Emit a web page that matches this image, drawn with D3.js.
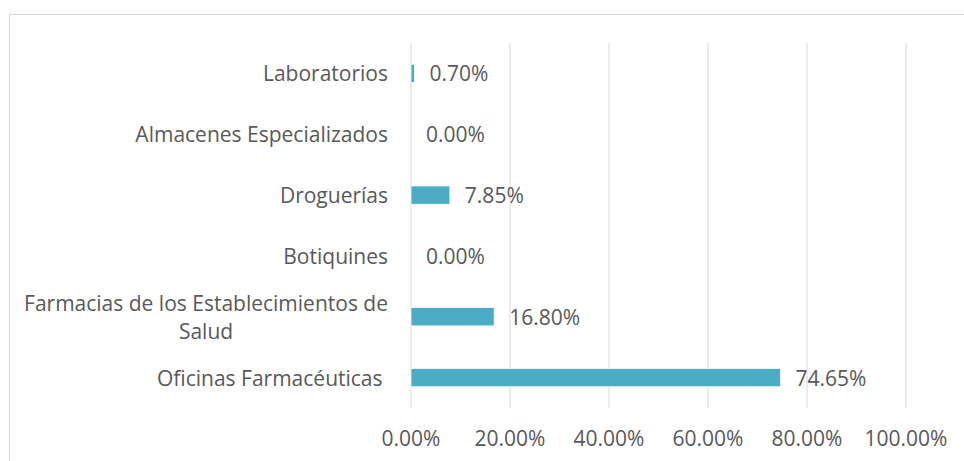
<!DOCTYPE html>
<html>
<head>
<meta charset="utf-8">
<script src="https://cdn.jsdelivr.net/npm/d3@7"></script>
<style>
  body { margin: 0; background: #fff; }
  svg text { font-family: "Open Sans", sans-serif; fill: #595959; }
</style>
</head>
<body>
<svg id="chart" width="964" height="461"></svg>
<script>
/*** DATA ***/
let categories = ["Laboratorios", "Almacenes Especializados", "Droguerías", "Botiquines",
                  "Farmacias de los Establecimientos de Salud", "Oficinas Farmacéuticas"];
let labelLines = [["Laboratorios"], ["Almacenes Especializados"], ["Droguerías"], ["Botiquines"],
                  ["Farmacias de los Establecimientos de", "Salud"], ["Oficinas Farmacéuticas\u00a0"]];
let values = [0.70, 0.00, 7.85, 0.00, 16.80, 74.65];
let ticks  = [0, 20, 40, 60, 80, 100];

/*** SETUP ***/
let margin = {top: 43, left: 411, right: 58, bottom: 53},
    width  = 964 - margin.left - margin.right,
    height = 461 - margin.top - margin.bottom;

let fs = 21;

let svg = d3.select("#chart");

// chart border
svg.append("rect")
    .attr("x", 9.5).attr("y", 14.5)
    .attr("width", 970).attr("height", 470)
    .attr("fill", "none")
    .attr("stroke", "#d9d9d9");

let g = svg.append("g").attr("transform", `translate(${margin.left},${margin.top})`);

let x = d3.scaleLinear().domain([0, 100]).range([0, width]);
let y = d3.scaleBand().domain(categories).range([0, height]).paddingInner(0.7).paddingOuter(0.35);

// gridlines
g.selectAll(".grid").data(ticks).enter().append("line")
    .attr("x1", d => x(d)).attr("x2", d => x(d))
    .attr("y1", 0).attr("y2", height)
    .attr("stroke", "#d9d9d9").attr("stroke-width", 1);

// bars
g.selectAll(".bar").data(values).enter().append("rect")
    .attr("x", x(0))
    .attr("y", (d, i) => y(categories[i]))
    .attr("width", d => x(d) - x(0))
    .attr("height", y.bandwidth())
    .attr("fill", "#4bacc6")
    .attr("stroke", d => d > 0 ? "#fff" : "none")
    .attr("stroke-width", 0.75);

// value labels
g.selectAll(".val").data(values).enter().append("text")
    .attr("x", d => x(d) + 15)
    .attr("y", (d, i) => y(categories[i]) + y.bandwidth() / 2 + 8)
    .attr("font-size", fs)
    .text(d => d.toFixed(2) + "%");

// category labels
let cat = g.selectAll(".cat").data(labelLines).enter().append("text")
    .attr("text-anchor", "middle")
    .attr("font-size", fs)
    .attr("y", (d, i) => y(categories[i]) + y.bandwidth() / 2 + 8)
    .style("white-space", "pre");

cat.each(function(lines) {
    let t = d3.select(this);
    let lh = 28;
    let w = 0;
    lines.forEach((l, j) => {
        t.append("tspan")
            .attr("dy", j === 0 ? -(lines.length - 1) * lh / 2 : lh)
            .text(l);
    });
    // widest line sets the block's right edge
    t.selectAll("tspan").each(function() { w = Math.max(w, this.getComputedTextLength()); });
    t.selectAll("tspan").attr("x", -23 - w / 2);
});

// x axis labels
g.selectAll(".tick").data(ticks).enter().append("text")
    .attr("x", d => x(d))
    .attr("y", height + 38)
    .attr("text-anchor", "middle")
    .attr("font-size", fs)
    .text(d => d.toFixed(2) + "%");
</script>
</body>
</html>
